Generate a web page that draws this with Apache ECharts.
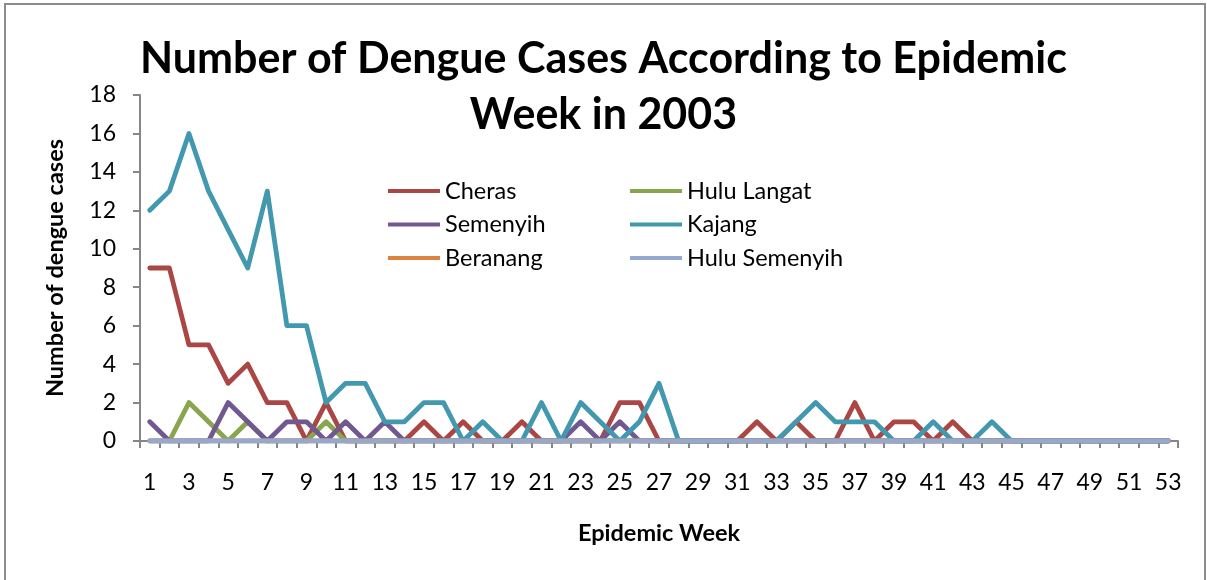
<!DOCTYPE html>
<html>
<head>
<meta charset="utf-8">
<script src="https://cdn.jsdelivr.net/npm/echarts@6/dist/echarts.min.js"></script>
<style>
html,body{margin:0;padding:0;background:#fff;}
#chart{width:1207px;height:580px;}
</style>
</head>
<body>
<div id="chart"></div>
<script>
const weeks = Array.from({length: 53}, (_, i) => String(i + 1));
const cheras =       [9,9,5,5,3,4,2,2,0,2,0,0,0,0,1,0,1,0,0,1,0,0,0,0,2,2,0,0,0,0,0,1,0,1,0,0,2,0,1,1,0,1,0,0,0,0,0,0,0,0,0,0,0];
const huluLangat =   [0,0,2,1,0,1,0,0,0,1,0,0,0,0,0,0,0,0,0,0,0,0,0,0,0,0,0,0,0,0,0,0,0,0,0,0,0,0,0,0,0,0,0,0,0,0,0,0,0,0,0,0,0];
const semenyih =     [1,0,0,0,2,1,0,1,1,0,1,0,1,0,0,0,0,0,0,0,0,0,1,0,1,0,0,0,0,0,0,0,0,0,0,0,0,0,0,0,0,0,0,0,0,0,0,0,0,0,0,0,0];
const kajang =       [12,13,16,13,11,9,13,6,6,2,3,3,1,1,2,2,0,1,0,0,2,0,2,1,0,1,3,0,0,0,0,0,0,1,2,1,1,1,0,0,1,0,0,1,0,0,0,0,0,0,0,0,0];
const beranang =     [0,0,0,0,0,0,0,0,0,0,0,0,0,0,0,0,0,0,0,0,0,0,0,0,0,0,0,0,0,0,0,0,0,0,0,0,0,0,0,0,0,0,0,0,0,0,0,0,0,0,0,0,0];
const huluSemenyih = [0,0,0,0,0,0,0,0,0,0,0,0,0,0,0,0,0,0,0,0,0,0,0,0,0,0,0,0,0,0,0,0,0,0,0,0,0,0,0,0,0,0,0,0,0,0,0,0,0,0,0,0,0];

const seriesNames = ['Cheras','Hulu Langat','Semenyih','Kajang','Beranang','Hulu Semenyih'];
const seriesData = [cheras, huluLangat, semenyih, kajang, beranang, huluSemenyih];
const colors = ['#AA4643','#89A54E','#71588F','#4198AF','#DB843D','#93A9CF'];

const FONT = 'Lato';
const chart = echarts.init(document.getElementById('chart'), null, {renderer: 'canvas'});
chart.setOption({
  animation: false,
  color: colors,
  title: {
    text: 'Number of Dengue Cases According to Epidemic\nWeek in 2003',
    left: 'center',
    top: 26,
    textStyle: {fontFamily: FONT, fontWeight: 'bold', fontSize: 43, lineHeight: 56, color: '#000'}
  },
  legend: [
    {
      data: ['Cheras','Semenyih','Beranang'],
      orient: 'vertical', left: 383, top: 174, itemGap: 9.5,
      itemWidth: 52, itemHeight: 4, icon: 'rect',
      textStyle: {fontFamily: FONT, fontSize: 23.5, color: '#000'}
    },
    {
      data: ['Hulu Langat','Kajang','Hulu Semenyih'],
      orient: 'vertical', left: 625, top: 174, itemGap: 9.5,
      itemWidth: 52, itemHeight: 4, icon: 'rect',
      textStyle: {fontFamily: FONT, fontSize: 23.5, color: '#000'}
    }
  ],
  grid: {left: 140, right: 29, top: 95, bottom: 139, containLabel: false},
  xAxis: {
    type: 'category',
    data: weeks,
    boundaryGap: true,
    name: 'Epidemic Week',
    nameLocation: 'middle',
    nameGap: 80,
    nameTextStyle: {fontFamily: FONT, fontWeight: 'bold', fontSize: 23.5, color: '#000'},
    axisLine: {lineStyle: {color: '#868686', width: 2}},
    axisTick: {show: true, interval: 0, length: 7, lineStyle: {color: '#868686', width: 2}},
    axisLabel: {interval: 1, margin: 30, fontFamily: FONT, fontSize: 23, color: '#000'},
    splitLine: {show: false}
  },
  yAxis: {
    type: 'value',
    min: 0, max: 18, interval: 2,
    name: 'Number of dengue cases',
    nameLocation: 'middle',
    nameGap: 73,
    nameRotate: 90,
    nameTextStyle: {fontFamily: FONT, fontWeight: 'bold', fontSize: 23.5, color: '#000'},
    axisLine: {show: true, lineStyle: {color: '#868686', width: 2}},
    axisTick: {show: true, length: 7, lineStyle: {color: '#868686', width: 2}},
    axisLabel: {margin: 24, fontFamily: FONT, fontSize: 23, color: '#000'},
    splitLine: {show: false}
  },
  series: seriesNames.map((name, i) => ({
    name: name,
    type: 'line',
    data: seriesData[i],
    showSymbol: false,
    symbol: 'none',
    lineStyle: {width: 4.8, join: 'round', cap: 'round'},
    z: 2 + i
  })),
  graphic: [{
    type: 'rect',
    shape: {x: 5, y: 4, width: 1200, height: 590},
    style: {fill: 'none', stroke: '#8c8c8c', lineWidth: 2},
    silent: true,
    z: 100
  }]
});
</script>
</body>
</html>
